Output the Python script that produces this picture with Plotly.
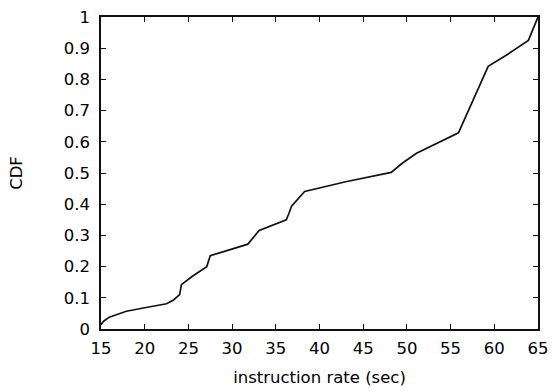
import plotly.graph_objects as go

rate = [15, 15.3, 15.95, 17.0, 17.9, 20.0, 22.5, 23.3, 24.0, 24.2, 25.5, 27.1, 27.5,
        29.5, 31.8, 33.1, 34.5, 36.2, 36.5, 36.8, 38.3, 43.0, 48.2, 49.5, 51.1,
        53.5, 55.9, 59.3, 61.5, 63.9, 65.0]
cdf = [0.014, 0.025, 0.038, 0.048, 0.057, 0.068, 0.081, 0.093, 0.11, 0.142, 0.17, 0.2, 0.235,
       0.252, 0.272, 0.316, 0.332, 0.35, 0.37, 0.394, 0.441, 0.472, 0.502, 0.532, 0.563,
       0.595, 0.629, 0.842, 0.88, 0.925, 1.0]

x_ticks = [15, 20, 25, 30, 35, 40, 45, 50, 55, 60, 65]
y_ticks = [0, 0.1, 0.2, 0.3, 0.4, 0.5, 0.6, 0.7, 0.8, 0.9, 1]
y_tick_text = ["0", "0.1", "0.2", "0.3", "0.4", "0.5", "0.6", "0.7", "0.8", "0.9", "1"]

font = dict(family="DejaVu Sans", size=16.5, color="#000")

fig = go.Figure()
fig.add_trace(go.Scatter(x=rate, y=cdf, mode="lines",
                         line=dict(color="#111", width=1.7), showlegend=False,
                         hoverinfo="skip"))

fig.update_layout(
    width=552, height=392,
    margin=dict(l=101, r=13.5, t=16.7, b=63, pad=0),
    paper_bgcolor="white", plot_bgcolor="white",
    font=font,
)
fig.update_xaxes(
    range=[15, 65], tickvals=x_ticks, ticks="inside", ticklen=5, tickwidth=1.3,
    tickcolor="#111", showline=True, linecolor="#111", linewidth=1.6, mirror="ticks",
    showgrid=False, zeroline=False, tickfont=font, ticklabelstandoff=3, automargin=False,
    title=dict(text="instruction rate (sec)", font=font, standoff=15),
)
fig.update_yaxes(
    range=[0, 1], tickvals=y_ticks, ticktext=y_tick_text, ticks="inside", ticklen=5,
    tickwidth=1.3, tickcolor="#111", showline=True, linecolor="#111", linewidth=1.6,
    mirror="ticks", showgrid=False, zeroline=False, tickfont=font, ticklabelstandoff=6,
    automargin=False,
    title=dict(text="CDF", font=font, standoff=37),
)

fig.write_html(
    "out.html",
    config={"displayModeBar": False},
    post_script="document.body.style.margin='0';document.body.style.overflow='hidden';",
)
